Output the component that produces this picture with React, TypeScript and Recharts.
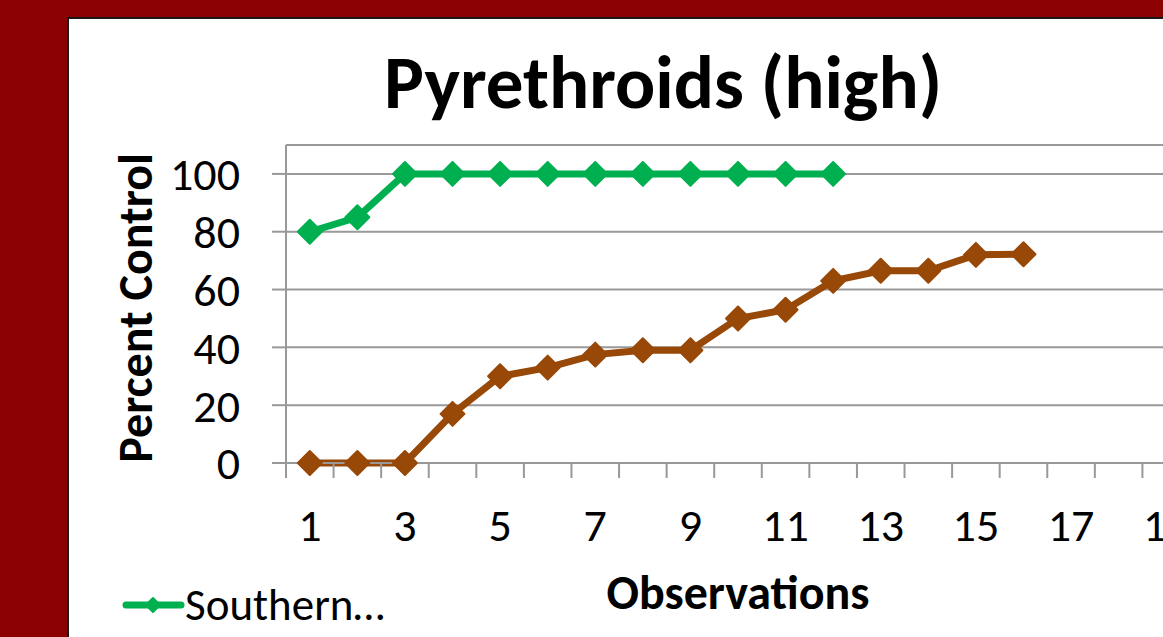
import { LineChart, Line, XAxis, YAxis, CartesianGrid, Legend } from 'recharts';

const observations = [1, 2, 3, 4, 5, 6, 7, 8, 9, 10, 11, 12, 13, 14, 15, 16, 17, 18, 19];
const southern = [80, 85, 100, 100, 100, 100, 100, 100, 100, 100, 100, 100, null, null, null, null, null, null, null];
const second = [0, 0, 0, 17, 30, 33, 37.5, 39, 39, 50, 53, 63, 66.5, 66.5, 72, 72.2, null, null, null];
const yTicks = [0, 20, 40, 60, 80, 100];

const data = observations.map((obs, i) => ({ obs, southern: southern[i], second: second[i] }));

const FONT = 'Carlito, Calibri, Lato, "Open Sans", sans-serif';
const GREEN = '#00b050';
const BROWN = '#984807';
const GRID = '#999999';

const CHART_W = 1300;
const CHART_H = 637;
const PLOT_LEFT = 286;
const PLOT_RIGHT = 1190;
const HALF_STEP = (PLOT_RIGHT - PLOT_LEFT) / observations.length / 2;

function Diamond({ cx, cy, fill, r = 12 }: { cx: number; cy: number; fill: string; r?: number }) {
  return <path d={`M${cx},${cy - r}L${cx + r},${cy}L${cx},${cy + r}L${cx - r},${cy}Z`} fill={fill} stroke={fill} strokeWidth={2} strokeLinejoin="round" />;
}

function makeDot(color: string) {
  return (props: any) => {
    const { cx, cy, value, index } = props;
    if (value == null || cy == null || isNaN(cy)) return <g key={`e-${index}`} />;
    return <Diamond key={`d-${index}`} cx={cx} cy={cy} fill={color} />;
  };
}

function XTick({ x, y, payload }: any) {
  const n = Number(payload.value);
  return (
    <g>
      <line x1={x - HALF_STEP} x2={x - HALF_STEP} y1={y} y2={y + 15} stroke={GRID} strokeWidth={2} />
      {n % 2 === 1 && (
        <text x={x} y={y + 62} textAnchor="middle" dominantBaseline="central" fontSize={46} fontFamily={FONT} fill="#000">
          {n}
        </text>
      )}
    </g>
  );
}

function LegendContent({ payload }: any) {
  const items = (payload || []).filter((p: any) => p.dataKey === 'southern');
  return (
    <div style={{ display: 'flex', flexDirection: 'column' }}>
      {items.map((p: any) => (
        <div key={p.value} style={{ display: 'flex', alignItems: 'center', height: 40 }}>
          <svg width={64} height={40}>
            <line x1={5} x2={60} y1={20} y2={20} stroke={p.color} strokeWidth={7} strokeLinecap="round" />
            <Diamond cx={32} cy={20} r={7} fill={p.color} />
          </svg>
          <span style={{ fontFamily: FONT, fontSize: 45, color: '#000', lineHeight: '40px' }}>{p.value}</span>
        </div>
      ))}
    </div>
  );
}

export default function App() {
  return (
    <div style={{ position: 'absolute', left: 0, top: 0, width: 1163, height: 637, overflow: 'hidden', background: '#8b0000' }}>
      <div style={{ position: 'absolute', left: 67, top: 17, width: 1200, height: 700, background: '#fff', border: '2px solid #1a1a1a' }} />
      <div
        style={{
          position: 'absolute',
          left: 263,
          top: 38,
          width: 800,
          textAlign: 'center',
          fontFamily: FONT,
          fontWeight: 700,
          fontSize: 75,
          lineHeight: '90px',
          color: '#000',
        }}
      >
        Pyrethroids (high)
      </div>
      <div style={{ position: 'absolute', left: 0, top: 0 }}>
        <LineChart width={CHART_W} height={CHART_H} data={data} margin={{ top: 145, right: CHART_W - PLOT_RIGHT, left: 86, bottom: 0 }}>
          <CartesianGrid horizontal vertical={false} stroke={GRID} strokeWidth={2} />
          <XAxis
            dataKey="obs"
            interval={0}
            padding={{ left: HALF_STEP, right: HALF_STEP }}
            height={134}
            tickSize={0}
            tickMargin={0}
            tickLine={false}
            axisLine={{ stroke: GRID, strokeWidth: 2 }}
            tick={<XTick />}
            label={({ viewBox }: any) => (
              <text
                x={738}
                y={viewBox.y + 129}
                textAnchor="middle"
                dominantBaseline="central"
                fontFamily={FONT}
                fontWeight={700}
                fontSize={48}
                fill="#000"
              >
                Observations
              </text>
            )}
          />
          <YAxis
            domain={[0, 110]}
            ticks={yTicks}
            interval={0}
            width={200}
            tickSize={14}
            tickMargin={32}
            tickLine={{ stroke: GRID, strokeWidth: 2 }}
            axisLine={{ stroke: GRID, strokeWidth: 2 }}
            tick={{ fontSize: 46, fontFamily: FONT, fill: '#000' }}
            label={({ viewBox }: any) => {
              const cx = viewBox.x + 49;
              const cy = viewBox.y + viewBox.height / 2 + 4;
              return (
                <text
                  x={cx}
                  y={cy}
                  transform={`rotate(-90, ${cx}, ${cy})`}
                  textAnchor="middle"
                  dominantBaseline="central"
                  fontFamily={FONT}
                  fontWeight={700}
                  fontSize={48}
                  fill="#000"
                >
                  Percent Control
                </text>
              );
            }}
          />
          <Legend
            verticalAlign="bottom"
            align="left"
            height={40}
            content={<LegendContent />}
            wrapperStyle={{ left: 121, bottom: 12, width: 400 }}
          />
          <Line
            dataKey="southern"
            name="Southern…"
            stroke={GREEN}
            strokeWidth={7}
            dot={makeDot(GREEN)}
            activeDot={false}
            isAnimationActive={false}
          />
          <Line
            dataKey="second"
            name="Series 2"
            stroke={BROWN}
            strokeWidth={7}
            dot={makeDot(BROWN)}
            activeDot={false}
            isAnimationActive={false}
          />
        </LineChart>
      </div>
    </div>
  );
}
